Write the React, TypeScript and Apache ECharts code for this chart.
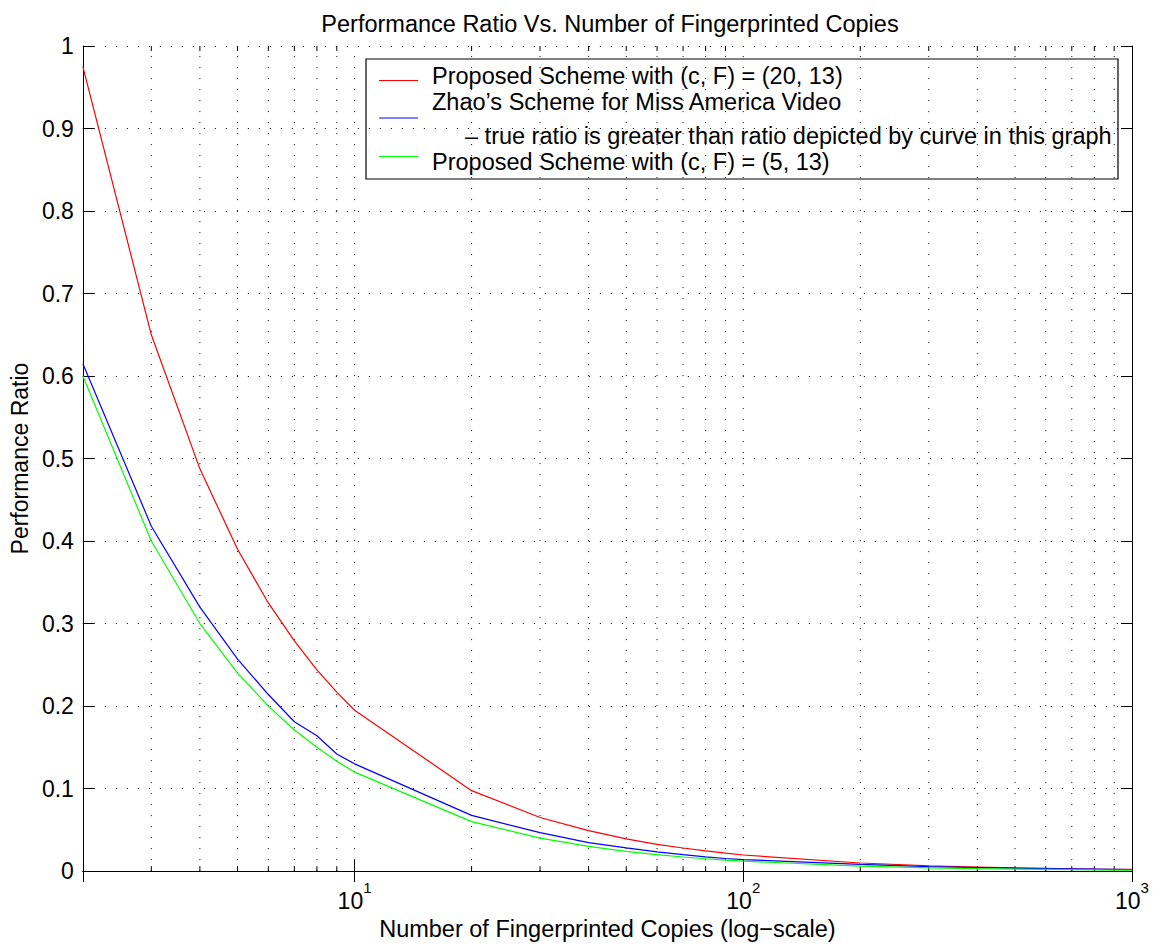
import React, { useEffect, useRef } from "react";
import * as echarts from "echarts";

const FONT = "'Liberation Sans', Arial, Helvetica, sans-serif";

const titleText = "Performance Ratio Vs. Number of Fingerprinted Copies";
const xAxisName = "Number of Fingerprinted Copies (log\u2212scale)";
const yAxisName = "Performance Ratio";

const copies = [2, 3, 4, 5, 6, 7, 8, 9, 10, 20, 30, 40, 50, 60, 70, 80, 90, 100, 200, 300, 400, 500, 600, 700, 800, 900, 1000];
const proposed20 = [0.975, 0.65, 0.4875, 0.39, 0.325, 0.279, 0.244, 0.217, 0.195, 0.0975, 0.065, 0.049, 0.039, 0.0325, 0.028, 0.0244, 0.0217, 0.0195, 0.0098, 0.0065, 0.0049, 0.0039, 0.0033, 0.0028, 0.0024, 0.0022, 0.002];
const zhao = [0.615, 0.418, 0.32, 0.257, 0.214, 0.181, 0.164, 0.142, 0.13, 0.0675, 0.0466, 0.0346, 0.0281, 0.0233, 0.02, 0.0173, 0.0153, 0.014, 0.0081, 0.0055, 0.0043, 0.0035, 0.003, 0.0026, 0.0023, 0.002, 0.0018];
const proposed5 = [0.6, 0.4, 0.3, 0.24, 0.2, 0.171, 0.15, 0.133, 0.12, 0.06, 0.04, 0.03, 0.024, 0.02, 0.0171, 0.015, 0.0133, 0.012, 0.006, 0.004, 0.003, 0.0024, 0.002, 0.0017, 0.0015, 0.0013, 0.0012];

const minorXTicks = [3, 4, 5, 6, 7, 8, 9, 20, 30, 40, 50, 60, 70, 80, 90, 200, 300, 400, 500, 600, 700, 800, 900];
const majorXGrid = [10, 100];

const legendLabels = [
  "Proposed Scheme with (c, F) = (20, 13)",
  "Zhao\u2019s Scheme for Miss America Video",
  "\u2013 true ratio is greater than ratio depicted by curve in this graph",
  "Proposed Scheme with (c, F) = (5, 13)",
];
const seriesColors = ["#ff0000", "#0000ff", "#00ff00"];

export default function App() {
  const ref = useRef<HTMLDivElement>(null);
  useEffect(() => {
    if (!ref.current) return;
    const chart = echarts.init(ref.current, undefined, { renderer: "svg" });
    const pair = (ys: number[]) => copies.map((x, i) => [x, ys[i]]);
    const gridData = [
      ...minorXTicks.map((v) => [v, 1]),
      ...majorXGrid.map((v) => [v, 0]),
    ];
    const tickStyle = { color: "#000", width: 1 };
    const legendFont = `23.5px ${FONT}`;
    const option: any = {
      animation: false,
      backgroundColor: "#fff",
      title: {
        text: titleText,
        left: 605,
        top: 7,
        textAlign: "center",
        textStyle: { fontFamily: FONT, fontSize: 23.5, fontWeight: "normal", color: "#000" },
      },
      grid: { left: 79, right: 21, top: 46, bottom: 70, containLabel: false },
      xAxis: [
        {
          type: "log",
          logBase: 10,
          min: 2,
          max: 1000,
          position: "bottom",
          name: xAxisName,
          nameLocation: "middle",
          nameGap: 44,
          nameTextStyle: { fontFamily: FONT, fontSize: 23.5, color: "#000" },
          axisLine: { show: true, lineStyle: { color: "#000", width: 1 } },
          axisTick: { show: true, inside: true, length: 11, lineStyle: tickStyle },
          axisLabel: {
            showMinLabel: false,
            margin: 9,
            formatter: (v: number) => `{b|10}{s|${Math.round(Math.log10(v))}}`,
            rich: {
              b: { fontFamily: FONT, fontSize: 23, color: "#000" },
              s: { fontFamily: FONT, fontSize: 15, color: "#000", padding: [0, 0, 26, 0] },
            },
          },
          splitLine: { show: false },
        },
        {
          type: "log",
          logBase: 10,
          min: 2,
          max: 1000,
          position: "top",
          axisLine: { show: true, lineStyle: { color: "#000", width: 1 } },
          axisTick: { show: true, inside: true, length: 11, lineStyle: tickStyle },
          axisLabel: { show: false },
          splitLine: { show: false },
        },
      ],
      yAxis: [
        {
          type: "value",
          min: 0,
          max: 1,
          interval: 0.1,
          position: "left",
          name: yAxisName,
          nameLocation: "middle",
          nameGap: 37,
          nameTextStyle: { fontFamily: FONT, fontSize: 23, color: "#000" },
          axisLine: { show: true, lineStyle: { color: "#000", width: 1 } },
          axisTick: { show: true, inside: true, length: 11, lineStyle: tickStyle },
          axisLabel: {
            margin: 9,
            fontFamily: FONT,
            fontSize: 23,
            color: "#000",
            formatter: (v: number) => (v === 0 ? "0" : v === 1 ? "1" : v.toFixed(1)),
          },
          splitLine: { show: true, lineStyle: { color: "#000", width: 1, type: [1, 10] } },
        },
        {
          type: "value",
          min: 0,
          max: 1,
          interval: 0.1,
          position: "right",
          axisLine: { show: true, lineStyle: { color: "#000", width: 1 } },
          axisTick: { show: true, inside: true, length: 11, lineStyle: tickStyle },
          axisLabel: { show: false },
          splitLine: { show: false },
        },
      ],
      series: [
        {
          type: "custom",
          name: "xgrid",
          xAxisIndex: 0,
          yAxisIndex: 0,
          silent: true,
          z: 1,
          encode: { x: 0, y: 1 },
          data: gridData,
          renderItem: (_params: any, api: any) => {
            const v = api.value(0);
            const minor = api.value(1) === 1;
            const b = api.coord([v, 0]);
            const t = api.coord([v, 1]);
            const children: any[] = [
              {
                type: "line",
                shape: { x1: b[0], y1: b[1], x2: t[0], y2: t[1] },
                style: { stroke: "#000", lineWidth: 1, lineDash: [1, 10] },
              },
            ];
            if (minor) {
              children.push({
                type: "line",
                shape: { x1: b[0], y1: b[1], x2: b[0], y2: b[1] - 5 },
                style: { stroke: "#000", lineWidth: 1 },
              });
              children.push({
                type: "line",
                shape: { x1: t[0], y1: t[1], x2: t[0], y2: t[1] + 5 },
                style: { stroke: "#000", lineWidth: 1 },
              });
            }
            return { type: "group", children };
          },
        },
        {
          type: "line",
          name: legendLabels[0],
          data: pair(proposed20),
          showSymbol: false,
          z: 3,
          lineStyle: { color: seriesColors[0], width: 1.2 },
          itemStyle: { color: seriesColors[0] },
        },
        {
          type: "line",
          name: legendLabels[1],
          data: pair(zhao),
          showSymbol: false,
          z: 3,
          lineStyle: { color: seriesColors[1], width: 1.2 },
          itemStyle: { color: seriesColors[1] },
        },
        {
          type: "line",
          name: legendLabels[3],
          data: pair(proposed5),
          showSymbol: false,
          z: 3,
          lineStyle: { color: seriesColors[2], width: 1.2 },
          itemStyle: { color: seriesColors[2] },
        },
      ],
      graphic: [
        {
          type: "group",
          z: 100,
          children: [
            {
              type: "rect",
              shape: { x: 366, y: 59, width: 752, height: 120 },
              style: { fill: "#fff", stroke: "#000", lineWidth: 1.2 },
            },
            { type: "line", shape: { x1: 379, y1: 80.5, x2: 418, y2: 80.5 }, style: { stroke: seriesColors[0], lineWidth: 1.2 } },
            { type: "line", shape: { x1: 379, y1: 118, x2: 418, y2: 118 }, style: { stroke: seriesColors[1], lineWidth: 1.2 } },
            { type: "line", shape: { x1: 379, y1: 156.5, x2: 418, y2: 156.5 }, style: { stroke: seriesColors[2], lineWidth: 1.2 } },
            { type: "text", x: 432, y: 76, style: { text: legendLabels[0], font: legendFont, fill: "#000", verticalAlign: "middle" } },
            { type: "text", x: 432, y: 102, style: { text: legendLabels[1], font: legendFont, fill: "#000", verticalAlign: "middle" } },
            { type: "text", x: 465, y: 136, style: { text: legendLabels[2], font: legendFont, fill: "#000", verticalAlign: "middle" } },
            { type: "text", x: 432, y: 162, style: { text: legendLabels[3], font: legendFont, fill: "#000", verticalAlign: "middle" } },
          ],
        },
      ],
    };
    chart.setOption(option);
    return () => chart.dispose();
  }, []);
  return (
    <div
      ref={ref}
      style={{ position: "fixed", left: 0, top: 0, width: 1153, height: 946, background: "#fff" }}
    />
  );
}
